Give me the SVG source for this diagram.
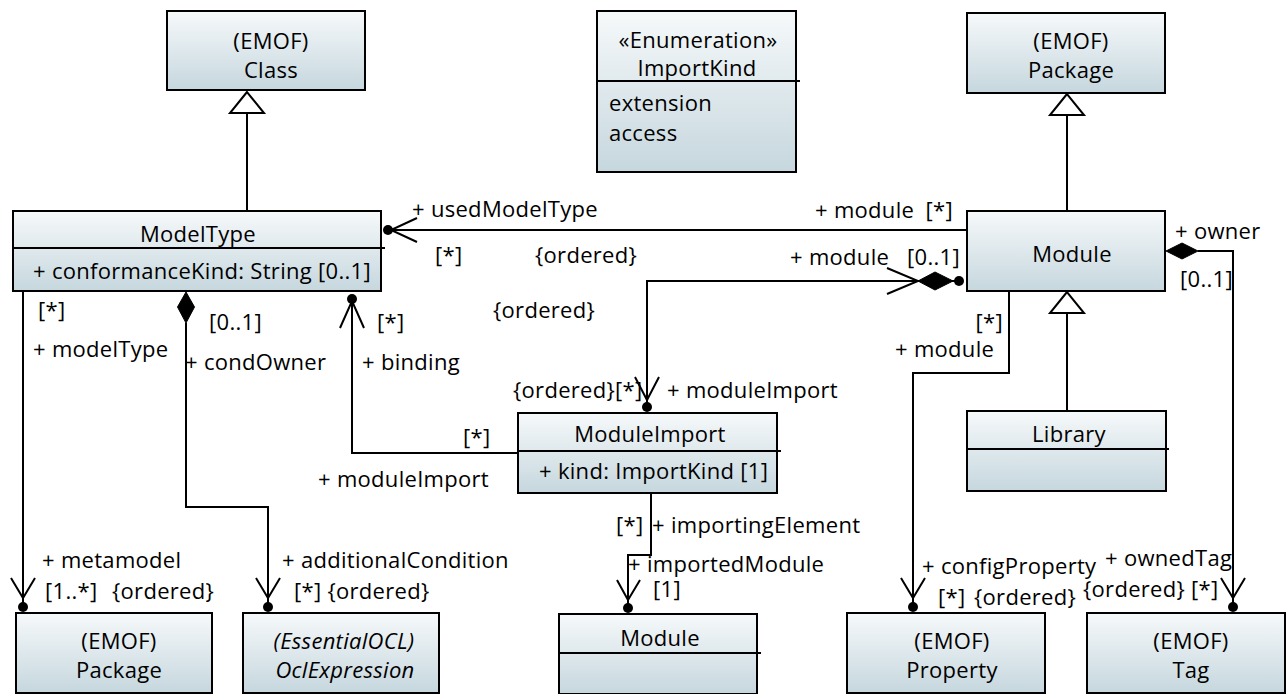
<svg xmlns="http://www.w3.org/2000/svg" width="1287" height="694" viewBox="0 0 1287 694">
<defs>
<linearGradient id="fillGrad" x1="0" y1="0" x2="0" y2="1">
<stop offset="0" stop-color="#f6f9fa"/>
<stop offset="1" stop-color="#c6d7de"/>
</linearGradient>
<style>
.box{fill:url(#fillGrad);stroke:#000;stroke-width:2}
.sep{stroke:#000;stroke-width:2}
.ln{fill:none;stroke:#000;stroke-width:2}
.nav{fill:none;stroke:#000;stroke-width:2}
.gen{fill:#fff;stroke:#000;stroke-width:2}
.dot{fill:#000}
.dia{fill:#000;stroke:#000;stroke-width:1}
text{font-family:"Open Sans","Noto Sans","DejaVu Sans",sans-serif;font-size:22px;fill:#000;letter-spacing:0.3px}
.c{text-anchor:middle}
.e{text-anchor:end}
.i{font-style:italic}
</style>
</defs>
<rect width="1287" height="694" fill="#fff"/>

<g id="connectors">
<!-- generalizations -->
<path class="ln" d="M247,210 V113"/>
<polygon class="gen" points="247,92 230,113 264,113"/>
<path class="ln" d="M1067,211 V115"/>
<polygon class="gen" points="1067,94 1050,115 1084,115"/>
<path class="ln" d="M1067,411 V313"/>
<polygon class="gen" points="1067,292 1050,313 1084,313"/>

<!-- usedModelType -->
<path class="ln" d="M967,230 H388"/>
<circle class="dot" cx="388" cy="230" r="5"/>
<path class="nav" d="M417,218 L391,230 L417,242"/>

<!-- module / moduleImport composition -->
<path class="ln" d="M960,281 H647 V407"/>
<polygon class="dia" points="918,281 935,272 953,281 935,290"/>
<circle class="dot" cx="959" cy="281" r="5"/>
<path class="nav" d="M887,268 L918,281 L887,294"/>
<circle class="dot" cx="647" cy="407" r="5"/>
<path class="nav" d="M635,377 L647,400 L659,377"/>

<!-- modelType / metamodel -->
<path class="ln" d="M23,291 V607"/>
<circle class="dot" cx="23" cy="607" r="5"/>
<path class="nav" d="M11,578 L23,598 L35,578"/>

<!-- condOwner / additionalCondition -->
<polygon class="dia" points="186,292 194.5,307 186,323 177.5,307"/>
<path class="ln" d="M186,323 V507 H268 V607"/>
<circle class="dot" cx="268" cy="607" r="5"/>
<path class="nav" d="M256,578 L268,598 L280,578"/>

<!-- binding / moduleImport -->
<path class="ln" d="M518,453 H352 V299"/>
<circle class="dot" cx="352" cy="299" r="5"/>
<path class="nav" d="M340,328 L352,301 L364,328"/>

<!-- importingElement / importedModule -->
<path class="ln" d="M651,493 V555 H628 V608"/>
<circle class="dot" cx="628" cy="608" r="5"/>
<path class="nav" d="M617,580 L628,600 L640,580"/>

<!-- module / configProperty -->
<path class="ln" d="M1009,291 V373 H913 V607"/>
<circle class="dot" cx="913" cy="607" r="5"/>
<path class="nav" d="M901,578 L913,598 L925,578"/>

<!-- owner / ownedTag -->
<polygon class="dia" points="1166,251 1182,243 1198,251 1182,259"/>
<path class="ln" d="M1198,251 H1233 V607"/>
<circle class="dot" cx="1233" cy="607" r="5"/>
<path class="nav" d="M1221,578 L1233,598 L1245,578"/>

<!-- labels -->
<text x="412" y="217">+ usedModelType</text>
<text x="435" y="263">[*]</text>
<text x="535" y="263">{ordered}</text>
<text x="815" y="218">+ module</text>
<text class="e" x="953" y="218">[*]</text>
<text x="790" y="265">+ module</text>
<text x="907" y="265">[0..1]</text>
<text x="493" y="318">{ordered}</text>
<text x="513" y="398">{ordered}[*]</text>
<text x="667" y="398">+ moduleImport</text>

<text x="38" y="318">[*]</text>
<text x="33" y="357">+ modelType</text>
<text x="42" y="568">+ metamodel</text>
<text x="45" y="599">[1..*]</text>
<text x="112" y="599">{ordered}</text>

<text x="209" y="330">[0..1]</text>
<text x="185" y="370">+ condOwner</text>
<text x="282" y="568">+ additionalCondition</text>
<text x="294" y="599">[*] {ordered}</text>

<text x="377" y="330">[*]</text>
<text x="362" y="370">+ binding</text>
<text x="463" y="445">[*]</text>
<text x="318" y="487">+ moduleImport</text>

<text x="616" y="533">[*]</text>
<text x="652" y="533">+ importingElement</text>
<text x="628" y="572">+ importedModule</text>
<text x="653" y="597">[1]</text>

<text class="e" x="1003" y="330">[*]</text>
<text x="895" y="357">+ module</text>
<text x="922" y="574">+ configProperty</text>
<text x="938" y="605">[*]</text>
<text x="974" y="605">{ordered}</text>

<text x="1175" y="239">+ owner</text>
<text x="1180" y="287">[0..1]</text>
<text x="1105" y="566">+ ownedTag</text>
<text x="1083" y="597">{ordered} [*]</text>
</g>

<g id="class-Class">
<rect class="box" x="167" y="11" width="198" height="79"/>
<text class="c" x="271" y="49">(EMOF)</text>
<text class="c" x="271" y="78">Class</text>
</g>

<g id="enum-ImportKind">
<rect class="box" x="597" y="11" width="199" height="161"/>
<line class="sep" x1="597" y1="81" x2="800" y2="81"/>
<text class="c" x="698" y="48">«Enumeration»</text>
<text class="c" x="697" y="76">ImportKind</text>
<text x="609" y="111">extension</text>
<text x="609" y="141">access</text>
</g>

<g id="class-PackageTop">
<rect class="box" x="967" y="13" width="198" height="80"/>
<text class="c" x="1071" y="49">(EMOF)</text>
<text class="c" x="1071" y="78">Package</text>
</g>

<g id="class-ModelType">
<rect class="box" x="13" y="211" width="368" height="80"/>
<line class="sep" x1="13" y1="248" x2="385" y2="248"/>
<text class="c" x="198" y="242">ModelType</text>
<text x="33" y="279">+ conformanceKind: String [0..1]</text>
</g>

<g id="class-Module">
<rect class="box" x="967" y="211" width="198" height="80"/>
<text class="c" x="1072" y="262">Module</text>
</g>

<g id="class-ModuleImport">
<rect class="box" x="518" y="413" width="259" height="80"/>
<line class="sep" x1="518" y1="451" x2="781" y2="451"/>
<text class="c" x="650" y="442">ModuleImport</text>
<text x="539" y="479">+ kind: ImportKind [1]</text>
</g>

<g id="class-Library">
<rect class="box" x="967" y="411" width="199" height="80"/>
<line class="sep" x1="967" y1="449" x2="1169" y2="449"/>
<text class="c" x="1069" y="442">Library</text>
</g>

<g id="class-PackageBottom">
<rect class="box" x="16" y="613" width="196" height="80"/>
<text class="c" x="119" y="649">(EMOF)</text>
<text class="c" x="119" y="678">Package</text>
</g>

<g id="class-OclExpression">
<rect class="box" x="243" y="613" width="196" height="80"/>
<text class="c i" x="344" y="649">(EssentialOCL)</text>
<text class="c i" x="345" y="678">OclExpression</text>
</g>

<g id="class-ModuleBottom">
<rect class="box" x="559" y="614" width="198" height="80"/>
<line class="sep" x1="559" y1="653" x2="761" y2="653"/>
<text class="c" x="660" y="646">Module</text>
</g>

<g id="class-Property">
<rect class="box" x="847" y="613" width="198" height="80"/>
<text class="c" x="952" y="649">(EMOF)</text>
<text class="c" x="952" y="678">Property</text>
</g>

<g id="class-Tag">
<rect class="box" x="1087" y="613" width="198" height="80"/>
<text class="c" x="1191" y="649">(EMOF)</text>
<text class="c" x="1191" y="678">Tag</text>
</g>
</svg>
